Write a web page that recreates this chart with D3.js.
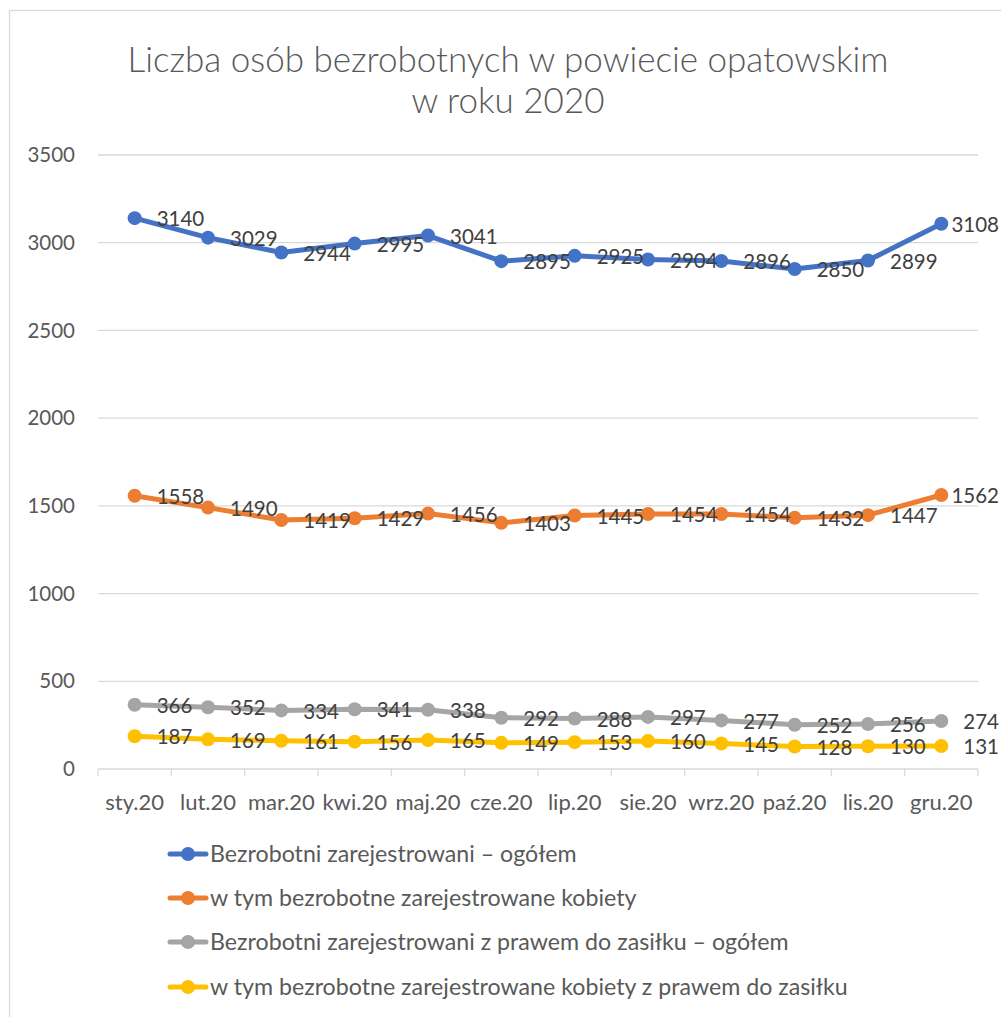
<!DOCTYPE html>
<html>
<head>
<meta charset="utf-8">
<script src="https://cdn.jsdelivr.net/npm/d3@7"></script>
<style>
  body { margin: 0; background: #fff; }
  text { font-family: Lato, "Open Sans", sans-serif; }
</style>
</head>
<body>
<div id="chart"></div>
<script>
// chart data
let months = ["sty.20", "lut.20", "mar.20", "kwi.20", "maj.20", "cze.20",
  "lip.20", "sie.20", "wrz.20", "paź.20", "lis.20", "gru.20"];

let seriesNames = [
  "Bezrobotni zarejestrowani – ogółem",
  "w tym bezrobotne zarejestrowane kobiety",
  "Bezrobotni zarejestrowani z prawem do zasiłku – ogółem",
  "w tym bezrobotne zarejestrowane kobiety z prawem do zasiłku"
];

let totalAll = [3140, 3029, 2944, 2995, 3041, 2895, 2925, 2904, 2896, 2850, 2899, 3108];
let totalWomen = [1558, 1490, 1419, 1429, 1456, 1403, 1445, 1454, 1454, 1432, 1447, 1562];
let benefitAll = [366, 352, 334, 341, 338, 292, 288, 297, 277, 252, 256, 274];
let benefitWomen = [187, 169, 161, 156, 165, 149, 153, 160, 145, 128, 130, 131];

let yTicks = [0, 500, 1000, 1500, 2000, 2500, 3000, 3500];

let titleLines = ["Liczba osób bezrobotnych w powiecie opatowskim", "w roku 2020"];

let colors = ["#4472C4", "#ED7D31", "#A5A5A5", "#FFC000"];
let allSeries = [totalAll, totalWomen, benefitAll, benefitWomen];

// dimensions
let W = 1001, H = 1017;
let margin = { top: 155, right: 23, bottom: 248, left: 98 },
  width = W - margin.left - margin.right,
  height = H - margin.top - margin.bottom;

let root = d3.select("#chart").append("svg")
  .attr("width", W)
  .attr("height", H);

// chart border
root.append("rect")
  .attr("x", 9.5).attr("y", 10.5)
  .attr("width", W + 10).attr("height", H + 10)
  .attr("fill", "none")
  .attr("stroke", "#d9d9d9")
  .attr("stroke-width", 1.3);

// title
root.append("g").selectAll("text")
  .data(titleLines)
  .enter().append("text")
  .attr("x", 508)
  .attr("y", (d, i) => 72 + i * 41)
  .attr("text-anchor", "middle")
  .attr("font-size", 35)
  .attr("font-weight", 300)
  .attr("fill", "#595959")
  .text(d => d);

let svg = root.append("g")
  .attr("transform", "translate(" + margin.left + "," + margin.top + ")");

let x = d3.scaleBand().domain(months).range([0, width]);
let y = d3.scaleLinear().domain([0, 3500]).range([height, 0]);

// gridlines
svg.append("g")
  .selectAll("line")
  .data(yTicks)
  .enter().append("line")
  .attr("x1", 0).attr("x2", width)
  .attr("y1", d => y(d)).attr("y2", d => y(d))
  .attr("stroke", "#d9d9d9")
  .attr("stroke-width", 1.3);

// y axis labels
svg.append("g")
  .selectAll("text")
  .data(yTicks)
  .enter().append("text")
  .attr("x", -23)
  .attr("y", d => y(d))
  .attr("dy", "0.35em")
  .attr("text-anchor", "end")
  .attr("font-size", 20.5)
  .attr("fill", "#595959")
  .text(d => d);

// x axis
let xAxis = svg.append("g")
  .attr("transform", "translate(0," + height + ")")
  .call(d3.axisBottom(x).tickSize(0).tickPadding(25));
xAxis.select(".domain").remove();
xAxis.selectAll("text")
  .attr("font-size", 22)
  .attr("fill", "#595959")
  .style("font-family", "Lato, 'Open Sans', sans-serif");

// tick marks between categories
let edges = months.map(m => x(m)).concat([width]);
svg.append("g")
  .selectAll("line")
  .data(edges)
  .enter().append("line")
  .attr("x1", d => d).attr("x2", d => d)
  .attr("y1", height).attr("y2", height + 7)
  .attr("stroke", "#d9d9d9")
  .attr("stroke-width", 1.3);

let cx = m => x(m) + x.bandwidth() / 2;

let line = d3.line()
  .x((d, i) => cx(months[i]))
  .y(d => y(d));

// lines and markers
allSeries.forEach(function (values, s) {
  let g = svg.append("g");
  g.append("path")
    .datum(values)
    .attr("d", line)
    .attr("fill", "none")
    .attr("stroke", colors[s])
    .attr("stroke-width", 5)
    .attr("stroke-linejoin", "round")
    .attr("stroke-linecap", "round");
  g.selectAll("circle")
    .data(values)
    .enter().append("circle")
    .attr("cx", (d, i) => cx(months[i]))
    .attr("cy", d => y(d))
    .attr("r", 7)
    .attr("fill", colors[s]);
});

// data labels, right of the point, kept inside the chart area
allSeries.forEach(function (values) {
  svg.append("g")
    .selectAll("text")
    .data(values)
    .enter().append("text")
    .attr("x", (d, i) => cx(months[i]) + 22)
    .attr("y", d => y(d) + 1)
    .attr("dy", "0.35em")
    .attr("font-size", 20.5)
    .attr("fill", "#404040")
    .text(d => d)
    .each(function () {
      let el = d3.select(this);
      let w = this.getComputedTextLength();
      let x0 = +el.attr("x");
      let maxX = W - margin.left - 2;
      if (x0 + w > maxX) el.attr("x", maxX - w);
    });
});

// legend
let legend = root.append("g");
let legendY = [854, 898, 942, 987];
seriesNames.forEach(function (name, s) {
  let g = legend.append("g")
    .attr("transform", "translate(0," + legendY[s] + ")");
  g.append("line")
    .attr("x1", 170).attr("x2", 206)
    .attr("stroke", colors[s])
    .attr("stroke-width", 5)
    .attr("stroke-linecap", "round");
  g.append("circle")
    .attr("cx", 188).attr("r", 7)
    .attr("fill", colors[s]);
  g.append("text")
    .attr("x", 210)
    .attr("dy", "0.35em")
    .attr("font-size", 23.2)
    .attr("fill", "#595959")
    .text(name);
});
</script>
</body>
</html>
